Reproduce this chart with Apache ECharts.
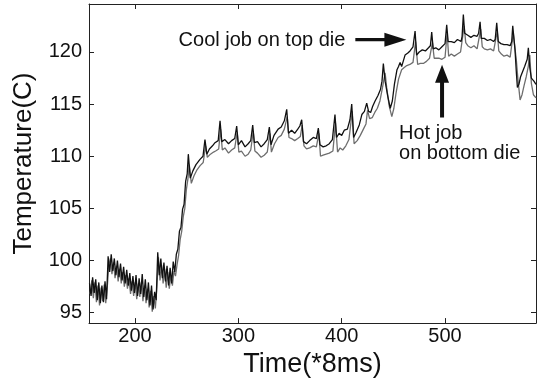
<!DOCTYPE html>
<html>
<head>
<meta charset="utf-8">
<script src="https://cdn.jsdelivr.net/npm/echarts@6/dist/echarts.min.js"></script>
<style>
  html, body { margin: 0; padding: 0; background: #fff; }
  #chart { width: 537px; height: 383px; }
</style>
</head>
<body>
<div id="chart"></div>
<script>
// Cool job on top die (dark line)
const coolTime = [
  156, 157.5, 159, 160.5, 162, 163.5, 165, 166.5, 168, 169.5, 171, 172.5,
  174, 175.5, 177, 178.5, 180, 181.5, 183, 184.5, 186, 187.5, 189, 190.5,
  192, 193.5, 195, 196.5, 198, 199.5, 201, 202.5, 204, 205.5, 207, 208.5,
  210, 211.5, 213, 214.5, 216, 217.5, 219, 220.5,
  222, 223.5, 225, 226.5, 228, 229.5, 231, 232.5, 234, 235.5, 237, 238.5,
  240, 241.5, 243, 244.5, 246, 247.5, 249, 250.5, 251.6,
  253.5, 256, 259, 262.9, 265.8, 267.7,
  269.5, 272, 275, 277.4, 280.5, 282.3,
  284, 287, 290.5, 293.5, 296.5, 298.4,
  300, 303, 306.5, 309.5, 312, 313.9,
  315.5, 318.5, 322, 325, 328, 330,
  331.6, 334.5, 338.5, 341.5, 344.5, 346.8,
  348.5, 351.5, 354.5, 357.5, 359.5, 361.3,
  363, 366, 369, 372.5, 375.5, 377.4,
  379, 382, 385, 388, 391, 393.5,
  395, 397.5, 400, 402.5, 405.5, 408, 409.7,
  411.5, 414, 417, 419.5, 422, 424.2,
  426, 428, 430, 432.3, 435, 437.5, 439, 440.3,
  442, 444.5, 447, 449, 451, 453.5, 455, 456.5,
  458, 461.3, 464, 466.1, 469, 471,
  472.5, 475, 478, 481, 484, 485.8, 487.1,
  488.5, 491, 494, 497, 500, 501.6,
  503, 506, 509, 512, 515.5, 516.5, 517.7,
  519, 522, 525, 528, 531, 532.5, 533.9,
  535, 538, 541, 544, 547, 548.5, 550,
  551.5, 554, 557, 560, 563, 564.5, 565.5,
  567.7, 569, 570, 571.5, 573, 575, 577, 579.5, 580.6,
  582, 583.5, 586, 588
];
const coolTemp = [
  97.8, 96.6, 98.4, 96.9, 98.2, 96.2, 97.9, 95.9, 97.6, 96.0, 98.0, 96.3,
  100.4, 98.9, 100.6, 99.0, 100.2, 98.6, 100.0, 98.4, 99.7, 98.1, 99.4, 97.8,
  99.1, 97.6, 98.8, 97.1, 98.5, 96.9, 98.6, 96.6, 98.3, 96.8, 98.7, 96.5,
  98.2, 96.2, 97.9, 95.7, 97.6, 95.3, 97.0, 96.2,
  100.8, 98.6, 100.2, 98.3, 99.8, 98.0, 99.5, 97.6, 99.3, 97.8, 99.9, 98.9,
  100.6, 101.1, 102.8, 103.2, 104.9, 105.4, 107.6, 108.3, 110.2,
  107.9, 108.6, 109.2, 109.7, 110.0, 111.6,
  110.2, 110.7, 111.0, 111.3, 111.5, 113.4,
  111.4, 111.6, 111.2, 111.5, 111.7, 112.9,
  111.1, 111.5, 110.9, 111.2, 111.5, 113.0,
  111.3, 111.4, 110.9, 111.2, 111.6, 112.8,
  111.1, 112.0, 112.6, 112.8, 113.4, 114.5,
  112.2, 112.5, 112.2, 112.6, 112.9, 113.5,
  111.4, 111.2, 111.5, 111.8, 111.7, 112.7,
  111.1, 110.9, 111.0, 111.2, 111.6, 114.0,
  111.8, 112.2, 112.0, 112.5, 112.6, 113.5, 115.0,
  111.8, 112.3, 113.0, 114.0, 114.3, 115.1,
  114.3, 114.2, 114.8, 115.3, 115.8, 116.4, 117.2, 118.9,
  117.2, 115.8, 114.6, 115.3, 116.9, 118.3, 118.6, 119.0,
  118.6, 119.7, 119.9, 120.1, 120.5, 122.0,
  119.7, 120.0, 120.2, 120.1, 120.4, 120.6, 121.9,
  120.3, 120.4, 120.2, 120.5, 120.8, 122.6,
  121.0, 121.0, 120.9, 121.2, 121.0, 121.5, 123.6,
  121.8, 121.6, 121.4, 121.6, 121.5, 121.8, 122.9,
  121.3, 121.3, 121.1, 121.2, 121.0, 121.2, 122.8,
  121.0, 120.8, 120.7, 120.7, 120.6, 121.0, 122.5,
  120.2, 118.0, 116.6, 116.9, 117.6, 118.1, 118.6, 119.3, 120.4,
  118.5, 117.5, 117.2, 116.9
];

// Hot job on bottom die (grey line)
const hotTime = [
  156.7, 158.2, 159.7, 161.2, 162.7, 164.2, 165.7, 167.2, 168.7, 170.2, 171.7, 173.2,
  174.7, 176.2, 177.7, 179.2, 180.7, 182.2, 183.7, 185.2, 186.7, 188.2, 189.7, 191.2,
  192.7, 194.2, 195.7, 197.2, 198.7, 200.2, 201.7, 203.2, 204.7, 206.2, 207.7, 209.2,
  210.7, 212.2, 213.7, 215.2, 216.7, 218.2, 219.7, 221.2,
  222.7, 224.2, 225.7, 227.2, 228.7, 230.2, 231.7, 233.2, 234.7, 236.2, 237.7, 239.2,
  240.7, 242.2, 243.7, 245.2, 246.7, 248.2, 249.7, 251.2, 252.5,
  254.5, 257, 260, 263, 266, 268.3,
  270, 273, 276, 278, 281, 282.8,
  284.5, 287, 290.5, 293.5, 296.5, 298.9,
  300.5, 303, 306.5, 309.5, 312, 314.4,
  316, 318.5, 322, 325, 328, 330.5,
  332, 335, 338.5, 341.5, 344.5, 347.3,
  349, 351.5, 354.5, 357.5, 360, 361.8,
  363.5, 366, 369, 372.5, 375.5, 377.9,
  379.5, 382, 385, 388, 391.5, 394,
  396, 398.5, 401, 404, 407, 410.2,
  412, 415, 418, 421, 423.5, 425,
  427, 429.5, 432, 434.5, 437, 439.5, 442,
  443.5, 446, 448.5, 450.5, 452.5, 455, 458,
  460.5, 463, 466, 469, 471.5,
  473.5, 476, 479, 482, 485, 487.8,
  489.5, 491, 494, 497, 500, 502,
  503.5, 506, 509, 512, 515, 518.5,
  520, 522, 525, 528, 531, 534.5,
  536, 538, 541, 544, 547, 550.5,
  552, 554.5, 557, 560, 563, 566,
  567.5, 569, 570.5, 572.6, 574.5, 576.5, 578.5, 580.5, 582,
  583.5, 585.5, 588
];
const hotTemp = [
  96.8, 98.1, 96.4, 97.9, 96.0, 97.6, 95.7, 97.4, 96.1, 97.7, 95.9, 97.5,
  99.6, 100.2, 98.7, 99.8, 98.3, 99.5, 98.0, 99.2, 97.8, 98.9, 97.5, 98.6,
  97.3, 98.3, 96.8, 98.0, 96.6, 97.9, 96.3, 97.8, 96.5, 97.9, 96.1, 97.6,
  95.9, 97.3, 95.5, 97.1, 95.1, 96.6, 95.4, 97.5,
  100.3, 98.1, 99.6, 97.8, 99.2, 97.4, 98.9, 97.3, 98.6, 97.6, 99.0, 98.5,
  99.6, 100.5, 102.0, 102.8, 104.2, 105.0, 106.8, 107.8, 109.2,
  107.4, 108.1, 108.7, 109.1, 109.4, 111.0,
  109.9, 110.2, 110.4, 110.5, 110.7, 112.6,
  110.6, 110.8, 110.3, 110.6, 110.8, 112.3,
  110.4, 110.5, 110.0, 110.2, 110.6, 112.4,
  110.5, 110.3, 109.9, 110.1, 110.4, 112.2,
  110.4, 111.2, 111.8, 112.0, 112.6, 113.8,
  111.8, 111.7, 111.5, 111.7, 111.9, 113.0,
  111.0, 110.7, 110.8, 111.0, 110.9, 112.2,
  110.0, 110.1, 110.2, 110.3, 110.5, 113.2,
  110.4, 110.8, 110.6, 111.0, 111.6, 114.3,
  111.2, 111.5, 112.0, 112.6, 113.1, 114.4,
  113.6, 113.7, 114.2, 114.6, 115.3, 116.6, 118.0,
  116.6, 114.8, 113.8, 114.6, 116.0, 117.4, 118.3,
  118.5, 118.7, 118.8, 119.0, 121.0,
  118.8, 118.9, 118.9, 119.1, 119.4, 120.9,
  119.4, 119.3, 119.4, 119.3, 119.5, 121.8,
  119.6, 119.8, 119.6, 119.8, 120.0, 122.5,
  120.9, 120.6, 120.4, 120.6, 120.3, 122.2,
  120.5, 120.3, 120.2, 120.3, 120.1, 122.0,
  120.1, 119.8, 119.6, 119.7, 119.5, 121.8,
  120.5, 119.2, 117.4, 115.4, 115.9, 116.8, 117.6, 118.6, 119.7,
  117.0, 115.9, 115.6
];

const xTicks = [200, 300, 400, 500];
const yTicks = [95, 100, 105, 110, 115, 120];

const FONT = 'Liberation Sans, Arial, Helvetica, sans-serif';
const INK = '#111';
const AXIS = '#222';
const X_MIN = 155.5, X_MAX = 588;
const Y_MIN = 94, Y_MAX = 124.6;

const zip = (ts, vs) => ts.map((t, i) => [t, vs[i]]);

const chart = echarts.init(document.getElementById('chart'), null, { renderer: 'canvas' });

const boxAxis = {
  type: 'value',
  axisLine: { show: true, lineStyle: { color: AXIS, width: 1 } },
  axisTick: { show: true, inside: true, length: 5, lineStyle: { color: AXIS } },
  splitLine: { show: false },
};

const option = {
  animation: false,
  backgroundColor: '#fff',
  grid: { left: 89, right: 1, top: 4, bottom: 59, containLabel: false },
  xAxis: [
    {
      ...boxAxis,
      position: 'bottom',
      min: X_MIN,
      max: X_MAX,
      axisLabel: {
        color: INK,
        fontFamily: FONT,
        fontSize: 20,
        margin: 3,
        showMinLabel: false,
        showMaxLabel: false,
        formatter: v => (xTicks.includes(v) ? String(v) : ''),
      },
      name: 'Time(*8ms)',
      nameLocation: 'middle',
      nameGap: 26,
      nameTextStyle: { color: INK, fontFamily: FONT, fontSize: 27 },
    },
    {
      ...boxAxis,
      position: 'top',
      min: X_MIN,
      max: X_MAX,
      axisLabel: { show: false },
    },
  ],
  yAxis: [
    {
      ...boxAxis,
      position: 'left',
      min: Y_MIN,
      max: Y_MAX,
      axisLabel: {
        color: INK,
        fontFamily: FONT,
        fontSize: 20,
        margin: 7,
        showMinLabel: false,
        showMaxLabel: false,
        formatter: v => (yTicks.includes(v) ? String(v) : ''),
      },
      name: 'Temperature(C)',
      nameLocation: 'middle',
      nameGap: 52,
      nameTextStyle: { color: INK, fontFamily: FONT, fontSize: 26 },
    },
    {
      ...boxAxis,
      position: 'right',
      min: Y_MIN,
      max: Y_MAX,
      axisLabel: { show: false },
    },
  ],
  series: [
    {
      name: 'Hot job on bottom die',
      type: 'line',
      xAxisIndex: 0,
      yAxisIndex: 0,
      data: zip(hotTime, hotTemp),
      showSymbol: false,
      lineStyle: { color: '#6e6e6e', width: 1.3 },
      z: 2,
    },
    {
      name: 'Cool job on top die',
      type: 'line',
      xAxisIndex: 0,
      yAxisIndex: 0,
      data: zip(coolTime, coolTemp),
      showSymbol: false,
      lineStyle: { color: '#111', width: 1.3 },
      z: 3,
    },
  ],
};

chart.setOption(option);

// Annotations anchored in data space
const px = p => chart.convertToPixel({ gridIndex: 0 }, p);

const hArrow = (from, to, head, half, shaft) => {
  const [x0, y] = px(from);
  const x1 = px(to)[0];
  return [
    [x0, y - shaft], [x1 - head, y - shaft], [x1 - head, y - half], [x1, y],
    [x1 - head, y + half], [x1 - head, y + shaft], [x0, y + shaft],
  ];
};
const vArrow = (from, to, head, half, shaft) => {
  const [x, y0] = px(from);
  const y1 = px(to)[1];
  return [
    [x - shaft, y0], [x - shaft, y1 + head], [x - half, y1 + head], [x, y1],
    [x + half, y1 + head], [x + shaft, y1 + head], [x + shaft, y0],
  ];
};
const label = (p, text) => {
  const [x, y] = px(p);
  return {
    type: 'text',
    x, y,
    style: { text, fill: INK, font: `20px ${FONT}`, textAlign: 'left', textVerticalAlign: 'middle' },
    z: 10,
  };
};

chart.setOption({
  graphic: [
    label([242.2, 121.13], 'Cool job on top die'),
    {
      type: 'polygon',
      shape: { points: hArrow([413.2, 121.18], [462.6, 121.18], 22, 7, 1.7) },
      style: { fill: INK },
      z: 10,
    },
    {
      type: 'polygon',
      shape: { points: vArrow([497.1, 113.71], [497.1, 118.78], 18, 7, 2) },
      style: { fill: INK },
      z: 10,
    },
    label([455.5, 112.17], 'Hot job'),
    label([455.5, 110.31], 'on bottom die'),
  ],
});
</script>
</body>
</html>
